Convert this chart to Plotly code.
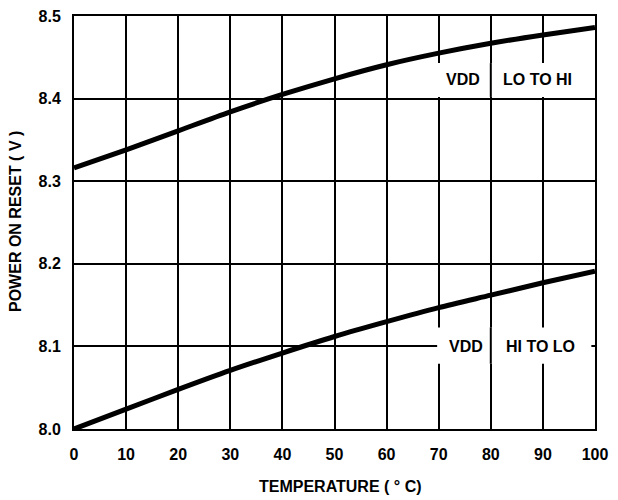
import plotly.graph_objects as go

temperature = [0, 10, 20, 30, 40, 50, 60, 70, 80, 90, 100]
vdd_lo_to_hi = [8.316, 8.338, 8.361, 8.384, 8.405, 8.424, 8.441, 8.455, 8.467, 8.477, 8.486]
vdd_hi_to_lo = [8.000, 8.024, 8.048, 8.071, 8.092, 8.112, 8.130, 8.147, 8.162, 8.177, 8.191]

x_ticks = [0, 10, 20, 30, 40, 50, 60, 70, 80, 90, 100]
y_ticks = [8.0, 8.1, 8.2, 8.3, 8.4, 8.5]
y_tick_labels = ["8.0", "8.1", "8.2", "8.3", "8.4", "8.5"]

FONT = "Liberation Sans, Arial, sans-serif"

fig = go.Figure()
for ys in (vdd_lo_to_hi, vdd_hi_to_lo):
    fig.add_trace(go.Scatter(x=temperature, y=ys, mode="lines",
                             line=dict(color="black", width=5, shape="spline", smoothing=0.8),
                             showlegend=False, hoverinfo="skip", cliponaxis=False))

# white boxes behind labels, with the 80 gridline re-drawn through them
for (y0, y1) in [(8.402, 8.443), (8.079, 8.123)]:
    fig.add_shape(type="rect", xref="x", yref="y", x0=69.7, x1=99.3, y0=y0, y1=y1,
                  fillcolor="white", line=dict(width=0), layer="above")
    fig.add_shape(type="line", xref="x", yref="y", x0=80, x1=80, y0=y0, y1=y1,
                  line=dict(color="black", width=2), layer="above")

labels = [("VDD", 74.6, 8.423), ("LO TO HI", 88.9, 8.423),
          ("VDD", 75.3, 8.1), ("HI TO LO", 89.5, 8.1)]
for txt, x, y in labels:
    fig.add_annotation(x=x, y=y, xref="x", yref="y", text="<b>%s</b>" % txt,
                       showarrow=False, font=dict(family=FONT, size=16, color="black"))

fig.update_xaxes(range=[0, 100], tickvals=x_ticks, ticktext=[str(v) for v in x_ticks],
                 showgrid=True, gridcolor="black", gridwidth=2,
                 showline=True, linecolor="black", linewidth=2, mirror=True,
                 zeroline=False, ticks="outside", ticklen=10, tickcolor="rgba(0,0,0,0)",
                 automargin=False, ticklabeloverflow="allow",
                 tickfont=dict(family=FONT, size=16, color="black", weight="bold"))
fig.update_yaxes(range=[8.0, 8.5], tickvals=y_ticks, ticktext=y_tick_labels,
                 showgrid=True, gridcolor="black", gridwidth=2,
                 showline=True, linecolor="black", linewidth=2, mirror=True,
                 zeroline=False, ticks="outside", ticklen=8, tickcolor="rgba(0,0,0,0)",
                 automargin=False, ticklabeloverflow="allow",
                 tickfont=dict(family=FONT, size=16, color="black", weight="bold"))

W, H = 618, 500
L, R, T, B = 66, 31, 8, 79
fig.update_layout(width=W, height=H, margin=dict(l=L, r=R, t=T, b=B),
                  plot_bgcolor="white", paper_bgcolor="white")

# axis titles, placed by pixel position within the figure
pw, ph = W - L - R, H - T - B
fig.add_annotation(x=(332 - L) / pw, y=(H - B - 479) / ph, xref="paper", yref="paper",
                   text="<b>TEMPERATURE ( ° C)</b>", showarrow=False,
                   xanchor="center", yanchor="middle",
                   font=dict(family=FONT, size=16, color="black"))
fig.add_annotation(x=(7 - L) / pw, y=(H - B - 214) / ph, xref="paper", yref="paper",
                   text="<b>POWER ON RESET ( V )</b>", textangle=-90,
                   showarrow=False, xanchor="center", yanchor="middle",
                   font=dict(family=FONT, size=16, color="black"))

fig.write_html("out.html")
